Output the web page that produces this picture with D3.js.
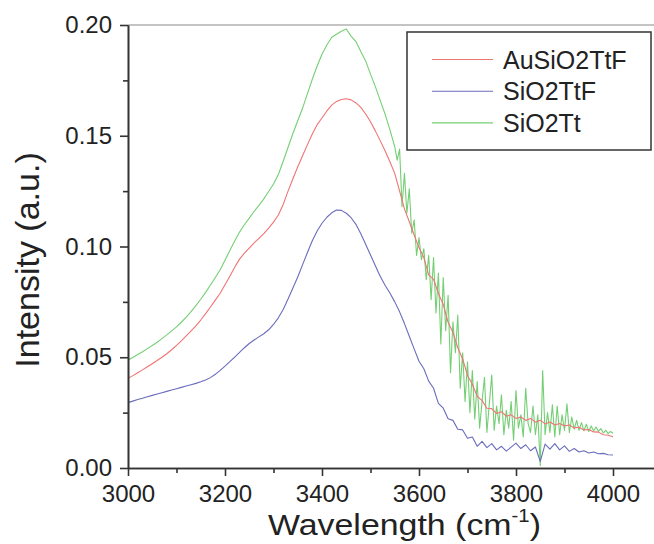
<!DOCTYPE html>
<html>
<head>
<meta charset="utf-8">
<script src="https://cdn.jsdelivr.net/npm/d3@7"></script>
<style>
  body { margin: 0; background: #fff; }
  text { font-family: "Liberation Sans", Arial, sans-serif; fill: #222; }
</style>
</head>
<body>
<svg id="chart" width="654" height="544"></svg>
<script>
// wavelength grids (cm-1)
const wavelength = d3.range(3000, 4001, 10);
const greenWavelength = d3.range(3000, 3550, 10).concat(d3.range(3550, 4001, 5));

const seriesNames = ["AuSiO2TtF", "SiO2TtF", "SiO2Tt"];

const auSiO2TtF = [
  0.0405, 0.0417, 0.0430, 0.0443, 0.0457, 0.0471, 0.0485, 0.0500, 0.0516, 0.0534,
  0.0554, 0.0574, 0.0596, 0.0619, 0.0642, 0.0668, 0.0697, 0.0727, 0.0758, 0.0789,
  0.0827, 0.0866, 0.0906, 0.0943, 0.0970, 0.0993, 0.1016, 0.1037, 0.1058, 0.1083,
  0.1110, 0.1142, 0.1190, 0.1250, 0.1306, 0.1360, 0.1410, 0.1460, 0.1508, 0.1550,
  0.1580, 0.1612, 0.1638, 0.1655, 0.1664, 0.1667, 0.1662, 0.1648, 0.1628, 0.1598,
  0.1563, 0.1522, 0.1478, 0.1432, 0.1383, 0.1330, 0.1250, 0.1170, 0.1112, 0.1052,
  0.0995, 0.0950, 0.0872, 0.0852, 0.0788, 0.0738, 0.0658, 0.0612, 0.0543, 0.0492,
  0.0418, 0.0378, 0.0324, 0.0304, 0.0270, 0.0268, 0.0246, 0.0254, 0.0234, 0.0240,
  0.0224, 0.0230, 0.0215, 0.0224, 0.0207, 0.0216, 0.0199, 0.0208, 0.0194, 0.0201,
  0.0190, 0.0194, 0.0181, 0.0184, 0.0172, 0.0174, 0.0163, 0.0162, 0.0150, 0.0148,
  0.0141
];

const siO2TtF = [
  0.0295, 0.0302, 0.0309, 0.0315, 0.0322, 0.0328, 0.0334, 0.0340, 0.0346, 0.0352,
  0.0358, 0.0364, 0.0370, 0.0376, 0.0382, 0.0389, 0.0397, 0.0408, 0.0423, 0.0441,
  0.0460, 0.0480, 0.0501, 0.0522, 0.0543, 0.0562, 0.0578, 0.0592, 0.0606, 0.0624,
  0.0648, 0.0678, 0.0716, 0.0763, 0.0813, 0.0862, 0.0918, 0.0973, 0.1026, 0.1070,
  0.1105, 0.1132, 0.1152, 0.1165, 0.1163, 0.1150, 0.1130, 0.1100, 0.1058, 0.1010,
  0.0962, 0.0913, 0.0866, 0.0825, 0.0790, 0.0750, 0.0705, 0.0652, 0.0595, 0.0538,
  0.0482, 0.0448, 0.0392, 0.0360, 0.0292, 0.0270, 0.0222, 0.0215, 0.0175, 0.0172,
  0.0134, 0.0140, 0.0098, 0.0120, 0.0092, 0.0110, 0.0082, 0.0098, 0.0076, 0.0094,
  0.0112, 0.0088, 0.0105, 0.0078, 0.0095, 0.0030, 0.0108, 0.0085, 0.0110, 0.0082,
  0.0100, 0.0075, 0.0088, 0.0072, 0.0078, 0.0068, 0.0072, 0.0064, 0.0066, 0.0060,
  0.0059
];

const siO2Tt = [
  // 3000-3540 every 10
  0.0488, 0.0499, 0.0512, 0.0525, 0.0539, 0.0553, 0.0568, 0.0584, 0.0601, 0.0619,
  0.0637, 0.0658, 0.0681, 0.0706, 0.0733, 0.0762, 0.0793, 0.0826, 0.0860, 0.0895,
  0.0938, 0.0982, 0.1025, 0.1065, 0.1098, 0.1128, 0.1158, 0.1186, 0.1215, 0.1248,
  0.1282, 0.1325, 0.1385, 0.1448, 0.1510, 0.1568, 0.1625, 0.1690, 0.1755, 0.1815,
  0.1868, 0.1910, 0.1945, 0.1958, 0.1972, 0.1982, 0.1950, 0.1925, 0.1880, 0.1838,
  0.1778, 0.1722, 0.1660, 0.1598, 0.1528,
  // 3550-4000 every 5
  0.1450, 0.1390, 0.1440, 0.1180, 0.1330, 0.1150, 0.1260, 0.1060, 0.1120, 0.0960,
  0.1040, 0.0940, 0.0990, 0.0850, 0.0960, 0.0760, 0.0950, 0.0700, 0.0880, 0.0560,
  0.0860, 0.0620, 0.0780, 0.0430, 0.0660, 0.0520, 0.0690, 0.0360, 0.0520, 0.0300,
  0.0480, 0.0250, 0.0440, 0.0220, 0.0390, 0.0180, 0.0300, 0.0410, 0.0160, 0.0290,
  0.0420, 0.0170, 0.0280, 0.0200, 0.0330, 0.0150, 0.0260, 0.0180, 0.0300, 0.0125,
  0.0350, 0.0180, 0.0240, 0.0140, 0.0360, 0.0200, 0.0160, 0.0280, 0.0150, 0.0240,
  0.0010, 0.0440, 0.0150, 0.0250, 0.0160, 0.0285, 0.0140, 0.0280, 0.0150, 0.0240,
  0.0170, 0.0290, 0.0160, 0.0230, 0.0175, 0.0215, 0.0170, 0.0205, 0.0168, 0.0198,
  0.0165, 0.0190, 0.0168, 0.0185, 0.0165, 0.0178, 0.0158, 0.0170, 0.0155, 0.0165,
  0.0157
];

const xMajorTicks = [3000, 3200, 3400, 3600, 3800, 4000];
const xMinorTicks = [3100, 3300, 3500, 3700, 3900];
const yMajorTicks = [0, 0.05, 0.10, 0.15, 0.20];
const yMinorTicks = [0.025, 0.075, 0.125, 0.175];

const colors = ["#ef7474", "#6a6cbc", "#74cf74"];

const svg = d3.select("#chart");
const plotLeft = 128, plotRight = 654, plotTop = 25, plotBottom = 468;

const x = d3.scaleLinear()
  .domain([3000, 3000 + (plotRight - plotLeft) / 485 * 1000])
  .range([plotLeft, plotRight]);
const y = d3.scaleLinear().domain([0, 0.2]).range([plotBottom, plotTop]);

svg.append("defs").append("clipPath").attr("id", "plotClip")
  .append("rect")
  .attr("x", plotLeft).attr("y", plotTop - 2)
  .attr("width", plotRight - plotLeft).attr("height", plotBottom - plotTop + 2);

// top frame line
svg.append("line")
  .attr("x1", plotLeft).attr("x2", plotRight)
  .attr("y1", plotTop).attr("y2", plotTop)
  .attr("stroke", "#c4c4c4")
  .attr("stroke-width", 2);

// curves
let line = d3.line()
  .x(d => x(d[0]))
  .y(d => y(d[1]));

let plot = svg.append("g").attr("clip-path", "url(#plotClip)");
let curves = [
  {data: greenWavelength.map((w, i) => [w, siO2Tt[i]]), color: colors[2]},
  {data: wavelength.map((w, i) => [w, siO2TtF[i]]), color: colors[1]},
  {data: wavelength.map((w, i) => [w, auSiO2TtF[i]]), color: colors[0]}
];
curves.forEach(c => {
  plot.append("path")
    .attr("d", line(c.data))
    .attr("fill", "none")
    .attr("stroke", c.color)
    .attr("stroke-width", 1.1)
    .attr("stroke-linejoin", "round");
});

// axes
function styleAxis(g) {
  g.select(".domain").attr("stroke", "#333").attr("stroke-width", 1.6);
  g.selectAll(".tick line").attr("stroke", "#333").attr("stroke-width", 1.6);
  g.selectAll(".tick text")
    .style("font-size", "24px")
    .attr("fill", "#222");
}

svg.append("g")
  .attr("transform", `translate(0,${plotBottom})`)
  .call(d3.axisBottom(x).tickValues(xMinorTicks).tickSize(5).tickFormat("").tickSizeOuter(0))
  .call(styleAxis);
svg.append("g")
  .attr("transform", `translate(0,${plotBottom})`)
  .call(d3.axisBottom(x).tickValues(xMajorTicks).tickSize(8).tickPadding(9)
    .tickFormat(d3.format("d")).tickSizeOuter(0))
  .call(styleAxis);

svg.append("g")
  .attr("transform", `translate(${plotLeft},0)`)
  .call(d3.axisLeft(y).tickValues(yMinorTicks).tickSize(5).tickFormat("").tickSizeOuter(0))
  .call(styleAxis);
svg.append("g")
  .attr("transform", `translate(${plotLeft},0)`)
  .call(d3.axisLeft(y).tickValues(yMajorTicks).tickSize(8).tickPadding(8)
    .tickFormat(d3.format(".2f")).tickSizeOuter(0))
  .call(styleAxis);

// axis titles
svg.append("text")
  .attr("transform", "translate(39,260) rotate(-90)")
  .attr("text-anchor", "middle")
  .style("font-size", "34px")
  .text("Intensity (a.u.)");

let xTitle = svg.append("text")
  .attr("transform", "translate(268,535) scale(1.13,1)")
  .style("font-size", "30px");
xTitle.append("tspan").text("Wavelength (cm");
xTitle.append("tspan").attr("dy", -13).style("font-size", "18px").text("-1");
xTitle.append("tspan").attr("dy", 13).text(")");

// legend
let legend = svg.append("g");
legend.append("rect")
  .attr("x", 407).attr("y", 32)
  .attr("width", 244).attr("height", 118)
  .attr("fill", "#fff")
  .attr("stroke", "#333")
  .attr("stroke-width", 1.5);

seriesNames.forEach((name, i) => {
  let ly = 59.5 + i * 31.7;
  legend.append("line")
    .attr("x1", 432).attr("x2", 493)
    .attr("y1", ly).attr("y2", ly)
    .attr("stroke", colors[i])
    .attr("stroke-width", 1.1);
  legend.append("text")
    .attr("x", 503)
    .attr("y", ly + 9)
    .style("font-size", "25px")
    .text(name);
});
</script>
</body>
</html>
